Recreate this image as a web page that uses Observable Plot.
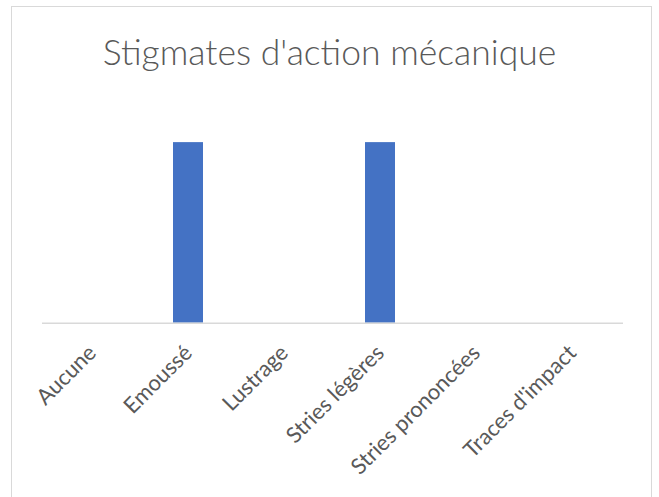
<!DOCTYPE html>
<html>
<head>
<meta charset="utf-8">
<script src="https://cdn.jsdelivr.net/npm/d3@7"></script>
<script src="https://cdn.jsdelivr.net/npm/@observablehq/plot@0.6"></script>
<style>
  html, body { margin: 0; padding: 0; background: #fff; overflow: hidden; width: 659px; height: 497px; }
  #wrap { position: relative; width: 659px; height: 497px; }
  #frame { position: absolute; left: 11px; top: 6px; width: 641px; height: 520px; border: 1.5px solid #d9d9d9; box-sizing: border-box; pointer-events: none; }
  #title { position: relative; height: 90px; box-sizing: border-box; padding-top: 34px; text-align: center; font-family: Lato, "Open Sans", sans-serif; font-weight: 300; font-size: 35.5px; line-height: 1; color: #595959; }
  #chart { position: relative; }
</style>
</head>
<body>
<div id="wrap">
  <div id="frame"></div>
  <div id="title">Stigmates d'action mécanique</div>
  <div id="chart"></div>
</div>
<script>
const categories = ["Aucune", "Emoussé", "Lustrage", "Stries légères", "Stries prononcées", "Traces d'impact"];
const values = [0, 1, 0, 1, 0, 0];
const titleText = "Stigmates d'action mécanique";

const data = categories.map((c, i) => ({cat: c, val: values[i]}));

const chart = Plot.plot({
  width: 659,
  height: 407,
  marginLeft: 42,
  marginRight: 36,
  marginTop: 16,
  marginBottom: 174.3,
  style: {fontFamily: "Lato, 'Open Sans', sans-serif", background: "transparent"},
  x: {domain: categories, paddingInner: 0.685, paddingOuter: 0.3425},
  y: {domain: [0, 1.2], axis: null},
  marks: [
    Plot.barY(data, {x: "cat", y: "val", fill: "#4472C4"}),
    Plot.ruleY([0], {stroke: "#d9d9d9", strokeWidth: 1.5}),
    Plot.axisX({tickSize: 0, tickPadding: 26, tickRotate: -45, fontSize: 22, fill: "#595959", label: null})
  ]
});
document.getElementById("chart").appendChild(chart);
</script>
</body>
</html>
